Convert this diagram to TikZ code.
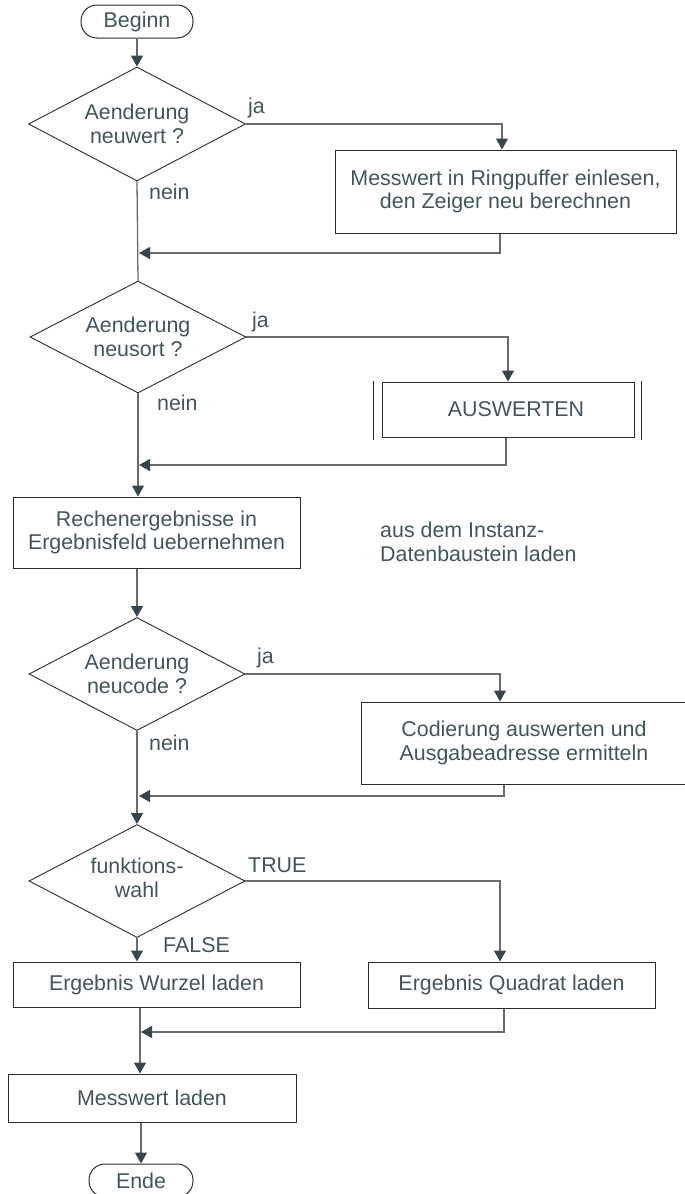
\documentclass[tikz,border=0pt]{standalone}
\usepackage{fontspec}
\setmainfont{Liberation Sans}
\usetikzlibrary{shapes.geometric,arrows.meta}

\definecolor{txt}{HTML}{43555B}
\definecolor{edge}{HTML}{2B2B2B}
\definecolor{wire}{HTML}{6A6A6A}
\definecolor{tip}{HTML}{36464C}

\tikzset{
  base/.style={font=\fontsize{21.4}{23.5}\selectfont, text=txt, align=center, inner sep=0pt},
  box/.style={base, draw=edge, line width=1pt, rectangle},
  term/.style={box, rounded corners=16pt},
  decision/.style={base, draw=edge, line width=0.9pt, diamond, aspect=1.9},
  wire/.style={draw=wire, line width=1.3pt},
  flow/.style={wire, -{Triangle[length=11pt,width=12pt,color=tip]}},
  lbl/.style={base, anchor=base west},
}

\begin{document}
\begin{tikzpicture}[x=1pt,y=-1pt]
\useasboundingbox (0,0) rectangle (685,1194);

% ---- nodes ----
\node[term, minimum width=112pt, minimum height=33pt] (begin) at (137,21.5) {Beginn};

\node[decision, minimum width=217pt, minimum height=114pt] (d1) at (137,124) {Aenderung\\neuwert ?};
\node[box, minimum width=341pt, minimum height=83pt] (b1) at (505.5,191.5)
  {Messwert in Ringpuffer einlesen,\\den Zeiger neu berechnen};

\node[decision, minimum width=216pt, minimum height=112pt] (d2) at (138,337) {Aenderung\\neusort ?};
\node[box, minimum width=252pt, minimum height=55pt] (aus) at (508,409.5) {\hspace*{16pt}AUSWERTEN};

\node[box, minimum width=287pt, minimum height=71pt] (rechen) at (156.5,532.5)
  {Rechenergebnisse in\\Ergebnisfeld uebernehmen};
\node[base, align=left, anchor=north west] (note) at (380,522)
  {aus dem Instanz-\\Datenbaustein laden};

\node[decision, minimum width=216pt, minimum height=113pt] (d3) at (137,674) {Aenderung\\neucode ?};
\node[box, minimum width=326pt, minimum height=82pt] (b3) at (524,743)
  {Codierung auswerten und\\Ausgabeadresse ermitteln};

\node[decision, minimum width=216pt, minimum height=113pt] (d4) at (137,881)
  {\raisebox{-6pt}{\begin{tabular}{@{}c@{}}funktions-\\wahl\end{tabular}}};
\node[box, minimum width=287pt, minimum height=45pt] (wurzel) at (156.5,984.5) {Ergebnis Wurzel laden};
\node[box, minimum width=287pt, minimum height=46pt] (quadrat) at (511.5,985) {Ergebnis Quadrat laden};

\node[box, minimum width=288pt, minimum height=48pt] (mess) at (152,1098) {Messwert laden};
\node[term, minimum width=104pt, minimum height=33pt] (ende) at (141,1180.5) {Ende};

% side bars of the subroutine box
\draw[edge, line width=1pt] ([xshift=-8pt,yshift=1pt]aus.north west) -- ([xshift=-8pt,yshift=-2pt]aus.south west);
\draw[edge, line width=1pt] ([xshift=7pt,yshift=1pt]aus.north east) -- ([xshift=7pt,yshift=-2pt]aus.south east);

% join points on the main line
\coordinate (m1) at (138,253);
\coordinate (m2) at (138,465);
\coordinate (m3) at (138,796);
\coordinate (m4) at (140,1032);

% ---- connectors ----
\draw[flow] (begin.south) -- (d1.north);

\draw[flow] (d1.east) -| ([xshift=-3.5pt]b1.north);
\node[lbl] (ja1) at (248,113) {ja};
\draw[wire] (d1.south) -- (d2.north);
\node[lbl] (nein1) at (149,199) {nein};
\draw[flow] ([xshift=-5.5pt]b1.south) |- ([xshift=1pt]m1);

\draw[flow] (d2.east) -| (aus.north);
\node[lbl] (ja2) at (252,327) {ja};
\draw[flow] (d2.south) -- (d2.south |- rechen.north);
\node[lbl] (nein2) at (157,410) {nein};
\draw[flow] ([xshift=-2pt]aus.south) |- ([xshift=1pt]m2);

\draw[flow] (rechen.south -| d3.north) -- (d3.north);

\draw[flow] (d3.east) -| ([xshift=-24pt]b3.north);
\node[lbl] (ja3) at (257,663) {ja};
\draw[flow] (d3.south) -- (d4.north);
\node[lbl] (nein3) at (149,750) {nein};
\draw[flow] ([xshift=-20pt]b3.south) |- ([xshift=1pt]m3);

\draw[flow] (d4.east) -| ([xshift=-11.5pt]quadrat.north);
\node[lbl] (true) at (248,872) {TRUE};
\draw[flow] (d4.south) -- (d4.south |- wurzel.north);
\node[lbl] (false) at (163,952) {FALSE};
\draw[flow] ([xshift=-7.5pt]quadrat.south) |- ([xshift=1pt]m4);

\draw[flow] (m4 |- wurzel.south) -- (m4 |- mess.north);
\draw[flow] (ende.north |- mess.south) -- (ende.north);
\end{tikzpicture}
\end{document}
